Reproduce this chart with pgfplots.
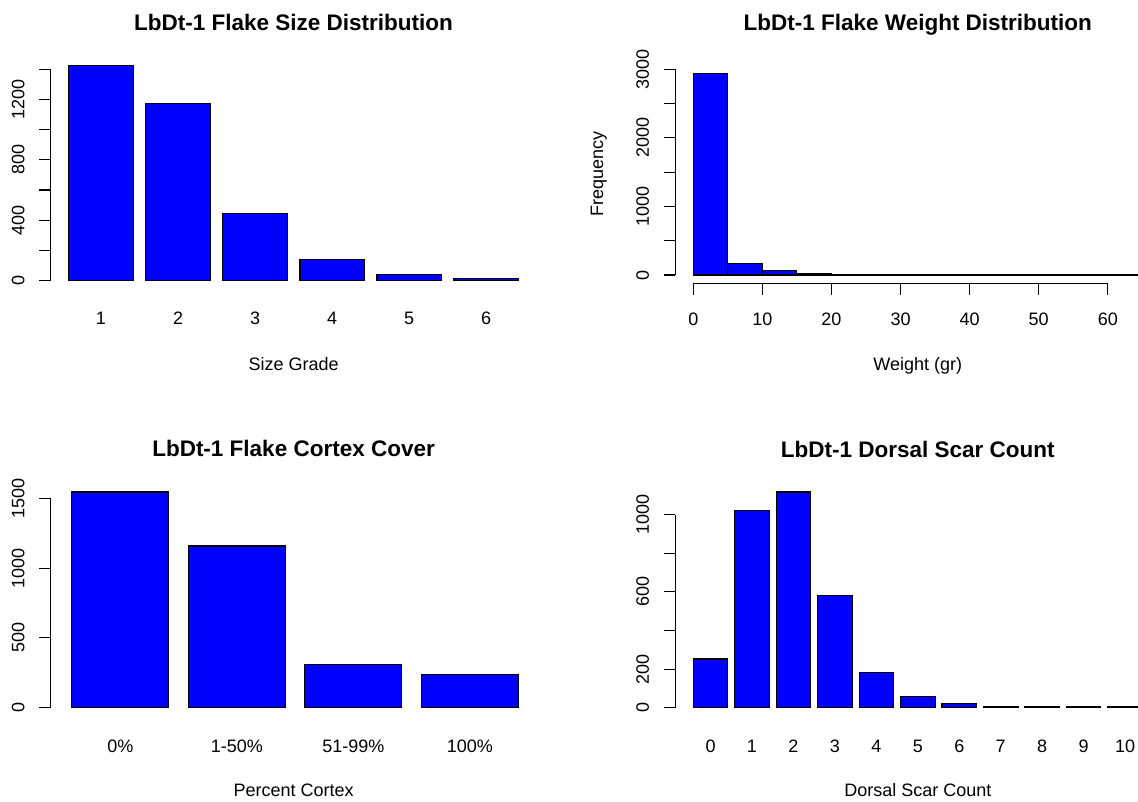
\documentclass[border=0pt]{standalone}
\usepackage{fontspec}
\setmainfont{Liberation Sans}
\usepackage{pgfplots}
\pgfplotsset{compat=1.18}
\pgfplotsset{
  rpanel/.style={
    scale only axis,
    axis x line*=bottom, axis y line*=left,
    x axis line style={draw=none}, y axis line style={draw=none},
    tick align=outside, major tick length=11.5pt,
    tick style={black, line width=1.1pt},
    minor tick num=0,
    tick label style={font=\fontsize{18}{21}\selectfont},
    yticklabel style={rotate=90, anchor=base, yshift=15pt},
    label style={font=\fontsize{18}{21}\selectfont},
    title style={font=\fontsize{22.5}{27}\selectfont\bfseries, at={(axis description cs:0.5,1)}, anchor=base},
    clip=false,
  },
  rbars/.style={ybar, bar width=1, bar shift=0pt, fill=blue, draw=black, line width=1.1pt},
}
\begin{document}
\begin{tikzpicture}
\useasboundingbox (0,0) rectangle (1138pt,801pt);
\clip (0,0) rectangle (1138pt,801pt);
% ---------- top left ----------
\begin{axis}[rpanel,
  at={(50.9pt,511.7pt)}, anchor=south west,
  width=485.3pt, height=232.3pt,
  xmin=-0.08, xmax=7.48, ymin=-56.9, ymax=1479.9,
  xtick={0.7,1.9,3.1,4.3,5.5,6.7}, xticklabels={1,2,3,4,5,6},
  xtick style={draw=none},
  xticklabel style={anchor=base, yshift=-24pt},
  ytick={0,200,400,600,800,1000,1200,1400},
  yticklabels={0,,400,,800,,1200,},
  title={LbDt-1 Flake Size Distribution}, title style={yshift=20pt},
  xlabel={Size Grade}, xlabel style={at={(axis description cs:0.5,0)}, anchor=base, yshift=-81pt},
]
\addplot[rbars] coordinates {(0.7,1423) (1.9,1175) (3.1,446) (4.3,143) (5.5,40) (6.7,12)};
\addplot[black, line width=1.1pt, forget plot] coordinates {(-0.08,0) (-0.08,1400)};
\end{axis}
% ---------- top right ----------
\begin{axis}[rpanel,
  at={(675.3pt,517.9pt)}, anchor=south west,
  width=485pt, height=217.8pt,
  xmin=-2.6, xmax=67.6, ymin=-117.6, ymax=3058.6,
  xtick={0,10,20,30,40,50,60}, xticklabels={0,10,20,30,40,50,60},
  xticklabel style={anchor=base, yshift=-30.5pt},
  ytick={0,500,1000,1500,2000,2500,3000},
  yticklabels={0,,1000,,2000,,3000},
  title={LbDt-1 Flake Weight Distribution}, title style={yshift=28.3pt},
  xlabel={Weight (gr)}, xlabel style={at={(axis description cs:0.5,0)}, anchor=base, yshift=-87pt},
  ylabel={Frequency}, ylabel style={at={(axis description cs:0,0.5)}, anchor=base, yshift=72.3pt},
]
\addplot[ybar interval, fill=blue, draw=black, line width=1.1pt] coordinates {
 (0,2941) (5,170) (10,68) (15,20) (20,0) (25,0) (30,0) (35,0) (40,0) (45,0) (50,0) (55,0) (60,0) (65,0)};
\addplot[black, line width=1.1pt, forget plot] coordinates {(-2.6,0) (-2.6,3000)};
\addplot[black, line width=1.1pt, forget plot] coordinates {(0,-117.6) (60,-117.6)};
\end{axis}
% ---------- bottom left ----------
\begin{axis}[rpanel,
  at={(50.9pt,84.7pt)}, anchor=south west,
  width=485.3pt, height=232.9pt,
  xmin=-0.016, xmax=4.984, ymin=-61.8, ymax=1606.8,
  xtick={0.7,1.9,3.1,4.3}, xticklabels={0\%,1-50\%,51-99\%,100\%},
  xtick style={draw=none},
  xticklabel style={anchor=base, yshift=-25pt},
  ytick={0,500,1000,1500},
  yticklabels={0,500,1000,1500},
  title={LbDt-1 Flake Cortex Cover}, title style={yshift=20.4pt},
  xlabel={Percent Cortex}, xlabel style={at={(axis description cs:0.5,0)}, anchor=base, yshift=-80pt},
]
\addplot[rbars] coordinates {(0.7,1545) (1.9,1158) (3.1,308) (4.3,236)};
\addplot[black, line width=1.1pt, forget plot] coordinates {(-0.016,0) (-0.016,1500)};
\end{axis}
% ---------- bottom right ----------
\begin{axis}[rpanel,
  at={(675.3pt,84.7pt)}, anchor=south west,
  width=485pt, height=232.9pt,
  xmin=-0.32, xmax=13.72, ymin=-44.7, ymax=1161.7,
  xtick={0.7,1.9,3.1,4.3,5.5,6.7,7.9,9.1,10.3,11.5,12.7}, xticklabels={0,1,2,3,4,5,6,7,8,9,10},
  xtick style={draw=none},
  xticklabel style={anchor=base, yshift=-25pt},
  ytick={0,200,400,600,800,1000},
  yticklabels={0,200,,600,,1000},
  title={LbDt-1 Dorsal Scar Count}, title style={yshift=20.4pt},
  xlabel={Dorsal Scar Count}, xlabel style={at={(axis description cs:0.5,0)}, anchor=base, yshift=-80pt},
]
\addplot[rbars] coordinates {(0.7,252) (1.9,1022) (3.1,1117) (4.3,579) (5.5,180) (6.7,60) (7.9,22) (9.1,7) (10.3,6) (11.5,5) (12.7,5)};
\addplot[black, line width=1.1pt, forget plot] coordinates {(-0.32,0) (-0.32,1000)};
\end{axis}
\end{tikzpicture}
\end{document}
